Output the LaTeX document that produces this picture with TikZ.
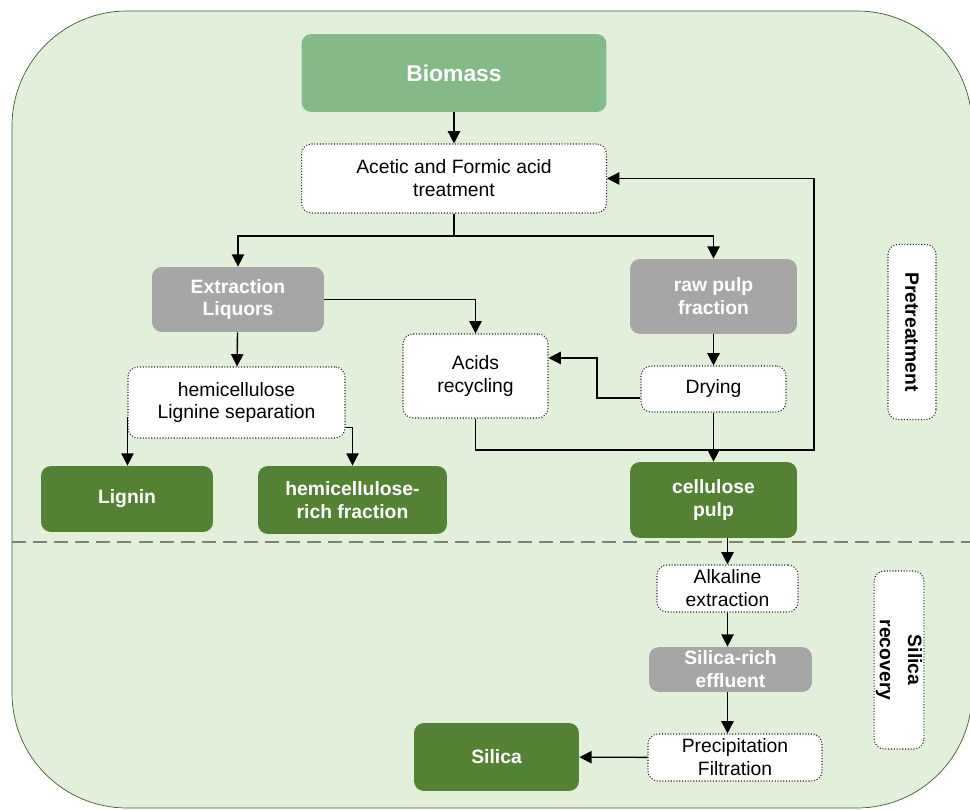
\documentclass[tikz,border=0pt]{standalone}
\usepackage{fontspec}
\setmainfont{Liberation Sans}
\usetikzlibrary{arrows.meta}
\definecolor{bgreen}{HTML}{E2EFDA}
\definecolor{lgreen}{HTML}{84BA87}
\definecolor{dgreen}{HTML}{548235}
\definecolor{fgray}{HTML}{A6A6A6}
\definecolor{edgegreen}{HTML}{3D5E2C}
\begin{document}
\begin{tikzpicture}[x=0.02cm,y=-0.02cm]
            \tikzset{
                base/.style={rounded corners=0.2cm,align=center,inner sep=1pt,font=\fontsize{11}{13}\selectfont},
                feedbox/.style={base,fill=lgreen,text=white,font=\fontsize{13}{15}\selectfont\bfseries},
                procbox/.style={base,fill=white,draw=black!85,densely dotted,line width=0.6pt},
                fracbox/.style={base,fill=fgray,text=white,font=\fontsize{11}{13}\selectfont\bfseries},
                prodbox/.style={base,fill=dgreen,text=white,font=\fontsize{11}{13}\selectfont\bfseries},
                phase/.style={procbox,rotate=-90,minimum width=3.5cm,minimum height=0.96cm,font=\fontsize{11}{13}\selectfont\bfseries},
                arr/.style={-{Triangle[width=7pt,length=7pt]},thick},}
            \useasboundingbox (0,0) rectangle (970,810);
            \draw[fill=bgreen,draw=edgegreen,rounded corners=2.3cm] (12,11) rectangle (972,808);
            \draw[dashed,dash pattern=on 8pt off 4pt,draw=black!45!bgreen,thick] (12,542) -- (970,542);
            % pretreatment
            \node[feedbox,minimum width=6.1cm,minimum height=1.56cm] (biomass) at (454,73) {Biomass};
            \node[procbox,minimum width=6.1cm,minimum height=1.38cm] (acid) at (454,178.5) {Acetic and Formic acid\\treatment};
            \node[fracbox,minimum width=3.44cm,minimum height=1.3cm] (liquors) at (238,299.5) {Extraction\\Liquors};
            \node[fracbox,minimum width=3.34cm,minimum height=1.5cm] (rawpulp) at (713.5,296.5) {raw pulp\\fraction};
            \node[procbox,minimum width=4.34cm,minimum height=1.42cm] (hemisep) at (236.5,402.5) {hemicellulose\\Lignine separation};
            \node[procbox,minimum width=2.9cm,minimum height=1.68cm] (acids) at (475.5,376) {Acids\\recycling};
            \node[procbox,minimum width=2.9cm,minimum height=0.92cm] (drying) at (713.5,389) {Drying};
            \node[prodbox,minimum width=3.44cm,minimum height=1.32cm] (lignin) at (127,499) {Lignin};
            \node[prodbox,minimum width=3.78cm,minimum height=1.36cm] (hemirich) at (352.5,500) {hemicellulose-\\rich fraction};
            \node[prodbox,minimum width=3.34cm,minimum height=1.52cm] (pulp) at (713.5,500) {cellulose\\pulp};
            % silica recovery
            \node[procbox,minimum width=2.82cm,minimum height=0.94cm] (alkaline) at (727.5,588.5) {Alkaline\\extraction};
            \node[fracbox,minimum width=3.26cm,minimum height=0.9cm] (effluent) at (730.5,669.5) {Silica-rich\\effluent};
            \node[procbox,minimum width=3.48cm,minimum height=0.94cm] (precip) at (735,757.5) {Precipitation\\Filtration};
            \node[prodbox,minimum width=3.3cm,minimum height=1.36cm] (silica) at (496.5,757) {Silica};
            \node[phase] (pretreat) at (912,332) {Pretreatment};
            \node[phase,minimum width=3.56cm] (recovery) at (899,660) {Silica\\[3pt]recovery};
            % connectors
            \coordinate (branch) at (454,236);
            \coordinate (bend) at (597,358);
            \coordinate (loop) at (814,450);
            \draw[arr] (biomass) -- (acid);
            \draw[thick] (acid.south) -- (branch);
            \draw[arr] (branch) -| (liquors);
            \draw[arr] (branch) -| (rawpulp);
            \draw[arr] (liquors.east) -| (acids.north);
            \draw[arr] (liquors) -- (hemisep);
            \draw[arr] (rawpulp) -- (drying);
            \draw[arr] ([yshift=-0.18cm]drying.west) -| (bend) -- (bend -| acids.east);
            \draw[arr] ([yshift=-0.3cm]hemisep.west) -- (lignin.north -| hemisep.west);
            \draw[arr] ([yshift=-0.5cm]hemisep.east) -| (hemirich.north);
            \draw[arr] (drying) -- (pulp);
            \draw[arr] (acids.south) |- (loop) |- (acid.east);
            \draw[arr] (pulp.south -| alkaline.north) -- (alkaline.north);
            \draw[arr] (alkaline.south) -- (alkaline.south |- effluent.north);
            \draw[arr] (alkaline.south |- effluent.south) -- (alkaline.south |- precip.north);
            \draw[arr] (precip) -- (silica);
        \end{tikzpicture}
\end{document}
